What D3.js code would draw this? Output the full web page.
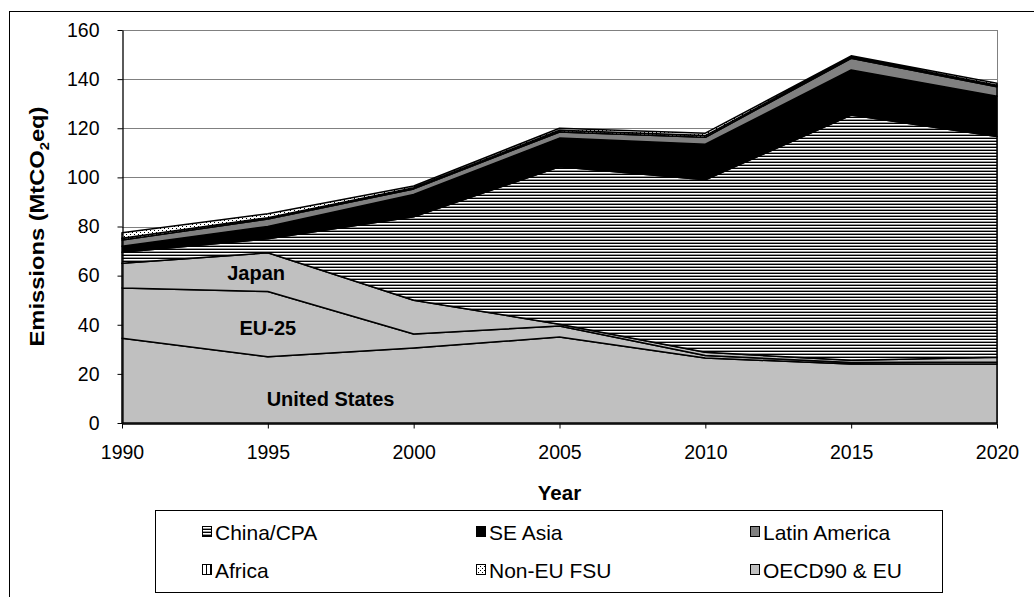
<!DOCTYPE html>
<html>
<head>
<meta charset="utf-8">
<script src="https://cdn.jsdelivr.net/npm/d3@7"></script>
<style>
  html, body { margin: 0; padding: 0; background: #fff; }
  svg { display: block; }
  text { font-family: "Liberation Sans", Arial, sans-serif; fill: #000; }
</style>
</head>
<body>
<svg id="chart" width="1034" height="597"></svg>
<script>
// ---- Data (MtCO2eq) ----
const years = [1990, 1995, 2000, 2005, 2010, 2015, 2020];
const unitedStates = [34.5, 27.0, 30.5, 35.0, 26.5, 24.0, 24.0];
const eu25         = [20.5, 26.5, 5.7, 4.5, 1.0, 0.6, 0.8];
const japan        = [10.0, 15.8, 13.8, 0.7, 1.3, 0.9, 2.0];
const chinaCPA     = [4.5, 5.7, 34.0, 64.1, 70.2, 99.9, 89.8];
const seAsia       = [2.5, 5.0, 9.0, 11.7, 14.5, 18.3, 16.4];
const latinAmerica = [2.5, 3.0, 2.3, 2.5, 2.8, 4.8, 3.9];
const africa       = [0.7, 0.6, 0.5, 0.7, 0.7, 0.5, 0.6];
const nonEuFSU     = [2.3, 1.6, 0.7, 0.8, 1.0, 0.5, 0.8];

const yTicks = [0, 20, 40, 60, 80, 100, 120, 140, 160];
const xTicks = years;

const seriesKeys = ["United States", "EU-25", "Japan", "China/CPA", "SE Asia", "Latin America", "Africa", "Non-EU FSU"];
const seriesValues = [unitedStates, eu25, japan, chinaCPA, seAsia, latinAmerica, africa, nonEuFSU];
const legendItems = ["China/CPA", "SE Asia", "Latin America", "Africa", "Non-EU FSU", "OECD90 & EU"];
const areaLabels = [
  { text: "United States", year: 1997.15, value: 7.0 },
  { text: "EU-25", year: 1995.0, value: 36.0 },
  { text: "Japan", year: 1994.6, value: 58.2 }
];

(function () {
const table = years.map((yr, i) => {
  const row = { year: yr };
  seriesKeys.forEach((k, j) => row[k] = seriesValues[j][i]);
  return row;
});

const svg = d3.select("#chart");
const pL = 122, pR = 997, pT = 30, pB = 423;
const FS = 19.5;

const x = d3.scaleLinear().domain([1990, 2020]).range([pL, pR]);
const y = d3.scaleLinear().domain([0, 160]).range([pB, pT]);

// outer frame
svg.append("rect").attr("x", 9.5).attr("y", 11.5).attr("width", 1030).attr("height", 590)
  .attr("fill", "none").attr("stroke", "#000").attr("stroke-width", 1);

// patterns
const defs = svg.append("defs");
const pChina = defs.append("pattern").attr("id", "pChina").attr("patternUnits", "userSpaceOnUse")
  .attr("width", 8).attr("height", 3);
pChina.append("rect").attr("width", 8).attr("height", 3).attr("fill", "#fff");
pChina.append("rect").attr("y", 0).attr("width", 8).attr("height", 1).attr("fill", "#000");
pChina.append("rect").attr("y", 2).attr("width", 8).attr("height", 1).attr("fill", "#9a9a9a");

const pAfrica = defs.append("pattern").attr("id", "pAfrica").attr("patternUnits", "userSpaceOnUse")
  .attr("width", 4).attr("height", 4);
pAfrica.append("rect").attr("width", 4).attr("height", 4).attr("fill", "#fff");
pAfrica.append("rect").attr("x", 0).attr("width", 1).attr("height", 4).attr("fill", "#000");

const pFSU = defs.append("pattern").attr("id", "pFSU").attr("patternUnits", "userSpaceOnUse")
  .attr("width", 4).attr("height", 4);
pFSU.append("rect").attr("width", 4).attr("height", 4).attr("fill", "#fff");
pFSU.append("rect").attr("x", 0).attr("y", 0).attr("width", 1).attr("height", 1).attr("fill", "#000");
pFSU.append("rect").attr("x", 2).attr("y", 2).attr("width", 1).attr("height", 1).attr("fill", "#000");

const fills = {
  "United States": "#c0c0c0",
  "EU-25": "#c0c0c0",
  "Japan": "#c0c0c0",
  "OECD90 & EU": "#c0c0c0",
  "China/CPA": "url(#pChina)",
  "SE Asia": "#000",
  "Latin America": "#808080",
  "Africa": "url(#pAfrica)",
  "Non-EU FSU": "url(#pFSU)"
};

// gridlines
svg.append("g").selectAll("line").data(yTicks.filter(d => d > 0)).join("line")
  .attr("x1", pL).attr("x2", pR)
  .attr("y1", d => Math.round(y(d)) + 0.5).attr("y2", d => Math.round(y(d)) + 0.5)
  .attr("stroke", "#808080").attr("stroke-width", 1);
svg.append("line").attr("x1", pR + 0.5).attr("x2", pR + 0.5).attr("y1", pT).attr("y2", pB)
  .attr("stroke", "#808080");

// stacked areas
const layers = d3.stack().keys(seriesKeys)(table);
const area = d3.area().x(d => x(d.data.year)).y0(d => y(d[0])).y1(d => y(d[1]));
svg.append("g").selectAll("path").data(layers).join("path")
  .attr("d", area)
  .attr("fill", d => fills[d.key])
  .attr("stroke", "#000")
  .attr("stroke-width", 1.5)
  .attr("stroke-linejoin", "round");

// area labels
svg.append("g").selectAll("text").data(areaLabels).join("text")
  .attr("x", d => x(d.year)).attr("y", d => y(d.value))
  .attr("text-anchor", "middle")
  .attr("font-size", 20).attr("font-weight", "bold")
  .text(d => d.text);

// axes
const yAxis = svg.append("g").attr("transform", `translate(${pL + 0.5},0)`)
  .call(d3.axisLeft(y).tickValues(yTicks).tickSize(5).tickSizeOuter(0).tickPadding(18));
const xAxis = svg.append("g").attr("transform", `translate(0,${pB + 0.5})`)
  .call(d3.axisBottom(x).tickValues(xTicks).tickFormat(d3.format("d")).tickSize(5).tickSizeOuter(0).tickPadding(17));
[yAxis, xAxis].forEach(g => {
  g.selectAll("path.domain").attr("stroke", "#000").attr("stroke-width", 1.3);
  g.selectAll(".tick line").attr("stroke", "#000");
  g.selectAll("text").attr("font-size", FS).attr("font-family", "Liberation Sans, Arial, sans-serif").attr("fill", "#000");
});

// axis titles
svg.append("text").attr("x", (pL + pR) / 2).attr("y", 500)
  .attr("text-anchor", "middle").attr("font-size", 20.5).attr("font-weight", "bold").text("Year");
const yt = svg.append("text").attr("transform", `translate(44,${(pT + pB) / 2}) rotate(-90)`)
  .attr("text-anchor", "middle").attr("font-size", 21).attr("font-weight", "bold")
  .attr("textLength", 240).attr("lengthAdjust", "spacingAndGlyphs");
yt.append("tspan").text("Emissions (MtCO");
yt.append("tspan").attr("font-size", 13).attr("dy", 5).text("2");
yt.append("tspan").attr("dy", -5).text("eq)");

// legend
svg.append("rect").attr("x", 155.5).attr("y", 510.5).attr("width", 787).attr("height", 82)
  .attr("fill", "#fff").attr("stroke", "#000");
const legCols = [202, 476, 750];
const legRows = [532, 570];
const lg = svg.append("g").selectAll("g").data(legendItems).join("g")
  .attr("transform", (d, i) => `translate(${legCols[i % 3]},${legRows[Math.floor(i / 3)]})`);
lg.append("rect").attr("x", 0.5).attr("y", -5.5).attr("width", 9).attr("height", 10)
  .attr("fill", d => fills[d]).attr("stroke", "#000");
lg.append("text").attr("x", 13).attr("y", 7.5).attr("font-size", 21).text(d => d);
})();
</script>
</body>
</html>
